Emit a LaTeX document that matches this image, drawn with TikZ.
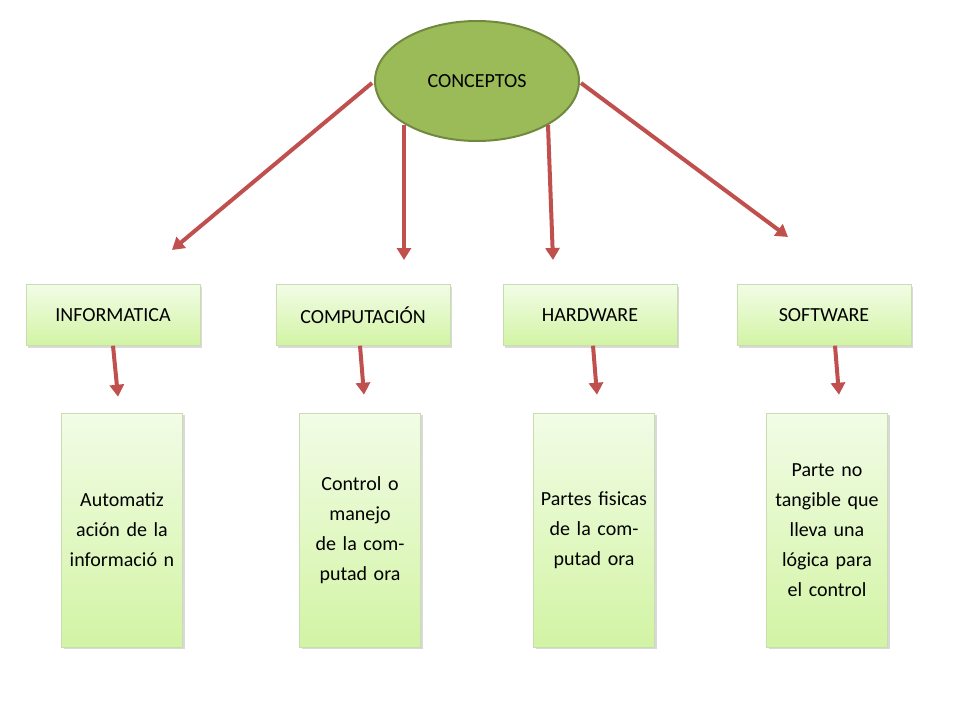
\documentclass[tikz,border=0pt]{standalone}
\usepackage{fontspec}
\setmainfont{Carlito}
\usetikzlibrary{shapes,positioning,shadows,arrows.meta}
\definecolor{arrowred}{HTML}{C0504D}
\definecolor{ellfill}{HTML}{9BBB59}
\definecolor{ellline}{HTML}{71893F}
\definecolor{boxtop}{HTML}{F2FCE6}
\definecolor{boxbot}{HTML}{D2F4A4}
\definecolor{boxline}{HTML}{C9DDB0}

\begin{document}
\begin{tikzpicture}[x=1pt, y=-1pt,
        concept/.style={ellipse, draw=ellline, line width=2pt, fill=ellfill,
            minimum width=204pt, minimum height=120pt, font=\fontsize{20}{24}\selectfont},
        topic/.style={draw=boxline, top color=boxtop, bottom color=boxbot,
            drop shadow={shadow xshift=2pt, shadow yshift=-2pt, opacity=0.3},
            minimum width=174pt, minimum height=61pt, font=\fontsize{20}{24}\selectfont},
        detail/.style={draw=boxline, top color=boxtop, bottom color=boxbot,
            drop shadow={shadow xshift=2pt, shadow yshift=-2pt, opacity=0.3},
            minimum width=121pt, minimum height=234pt, text width=110pt, align=center,
            font=\fontsize{20}{30}\selectfont},
        arrow/.style={-{Triangle[length=12pt, width=14pt]}, arrowred, line width=4pt}
    ]
    \useasboundingbox (0,0) rectangle (960,720);

    % Central node
    \node[concept] (conceptos) at (477,81) {CONCEPTOS};

    % Topics
    \node[topic] (informatica) at (113,315) {INFORMATICA};
    \node[topic] (computacion) at (363,315) {COMPUTACIÓN};
    \node[topic] (hardware) at (590,315) {HARDWARE};
    \node[topic] (software) at (824,315) {SOFTWARE};

    % Details
    \node[detail] (dinfo) at (122,530) {Automatiz ación de la informació n};
    \node[detail] (dcomp) at (360,530) {Control o manejo de la computad ora};
    \node[detail] (dhard) at (594,530) {Partes fisicas de la computad ora};
    \node[detail] (dsoft) at (827,530) {Parte no tangible que lleva una lógica para el control};

    % Arrow ends
    \coordinate (a1) at (172,250);
    \coordinate (a2) at (404,260);
    \coordinate (a3) at (553,260);
    \coordinate (a4) at (788,237);

    % Arrows from the center
    \draw[arrow] (372,83) -- (a1);
    \draw[arrow] (404,125) -- (a2);
    \draw[arrow] (548,125) -- (a3);
    \draw[arrow] (581,83) -- (a4);

    % Arrows to the details
    \draw[arrow] (informatica.south) -- ++(5,51);
    \draw[arrow] ([xshift=-3pt]computacion.south) -- ++(4,49);
    \draw[arrow] ([xshift=3pt]hardware.south) -- ++(4,49);
    \draw[arrow] ([xshift=11pt]software.south) -- ++(4,49);
\end{tikzpicture}
\end{document}
